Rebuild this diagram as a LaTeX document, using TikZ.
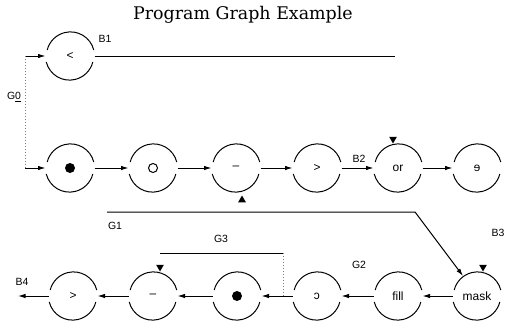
\documentclass[tikz,border=0pt]{standalone}
\usepackage{fontspec}
\setmainfont{Liberation Sans}
\newfontfamily\titlefont{DejaVu Serif}
\usetikzlibrary{arrows.meta,shapes.geometric}
\begin{document}
\begin{tikzpicture}[
  x = 1bp, y = 1bp,
  line width = 1bp,
  > = {Latex[length=7.5bp,width=4.5bp]},
  op/.style = {circle, minimum size=48bp, inner sep=0pt, font=\fontsize{12}{12}\selectfont},
  lbl/.style = {font=\fontsize{10.5}{11}\selectfont},
  tridown/.style = {regular polygon, regular polygon sides=3, shape border rotate=180,
    fill, inner sep=0pt, minimum size=9bp},
  triup/.style = {regular polygon, regular polygon sides=3,
    fill, inner sep=0pt, minimum size=9bp}
]
\def\rad{24bp}
\useasboundingbox (0,0) rectangle (508,329);

\node[font=\titlefont\fontsize{17.5}{17.5}\selectfont] (title) at (243,314) {Program Graph Example};

% linha 1
\node[op] (lt1) at (70,273) {<};
% linha 2
\node[op] (dot1) at (70,161) {};
\node[op] (circ) at (153,161) {};
\node[op] (sub1) at (236,161) {–};
\node[op] (gt1) at (317,161) {>};
\node[op] (or) at (398,161) {or};
\node[op] (theta) at (477,161) {\reflectbox{e}};
% linha 3
\node[op] (mask) at (477,33) {mask};
\node[op] (fill) at (398,33) {fill};
\node[op] (rc) at (317,33) {\reflectbox{c}};
\node[op] (dot2) at (237,33) {};
\node[op] (sub2) at (153,33) {–};
\node[op] (gt2) at (73,33) {>};

% contornos abertos dos operadores
\foreach \n in {lt1,dot1,circ,sub1,gt1,or,theta,mask,fill,rc,dot2,sub2,gt2} {
  \draw (\n.14) arc[start angle=14, end angle=166, radius=\rad];
  \draw (\n.194) arc[start angle=194, end angle=346, radius=\rad];
}
\fill (dot1) circle (5bp);
\fill (dot2) circle (5bp);
\draw (circ) circle (4.5bp);

% entradas
\coordinate (in0) at (25,273);
\coordinate (in1) at (25,161);
\draw[->] (in0) -- (lt1.west);
\draw[->] (in1) -- (dot1.west);
\draw[dotted, gray] (in0) -- (in1);
\node[lbl] (g0) at (14,232) {G\underline{0}};

% B1
\coordinate (b1end) at (395,273);
\draw (lt1.east) -- (b1end);
\node[lbl] (b1) at (105,290) {B1};

% arcos da linha 2
\foreach \a/\b in {dot1/circ, circ/sub1, sub1/gt1, gt1/or, or/theta}
  \draw[->] (\a.east) -- (\b.west);
\node[lbl] (b2) at (359,170) {B2};
\node[tridown] (m2) at (393,190) {};
\node[triup] (m1) at (242,129) {};

% G1
\coordinate (g1a) at (107,117);
\coordinate (g1b) at (415,117);
\draw[->] (g1a) -- (g1b) -- (mask.125);
\node[lbl] (g1) at (115,103) {G1};
\node[lbl] (b3) at (498,96) {B3};
\node[tridown] (m3) at (483,62) {};

% arcos da linha 3
\foreach \a/\b in {mask/fill, fill/rc, rc/dot2, dot2/sub2, sub2/gt2}
  \draw[->] (\a.west) -- (\b.east);
\coordinate (out) at (18,33);
\draw[->] (gt2.west) -- (out);
\node[lbl] (b4) at (22,47) {B4};
\node[lbl] (g2) at (359,64) {G2};

% G3
\node[tridown] (m4) at (160,62) {};
\coordinate (g3a) at (160,76);
\coordinate (g3b) at (283,76);
\draw (g3a) -- (g3b);
\draw[dotted, gray] (g3b) -- (g3b |- rc.west);
\node[lbl] (g3) at (221,90) {G3};
\end{tikzpicture}
\end{document}
